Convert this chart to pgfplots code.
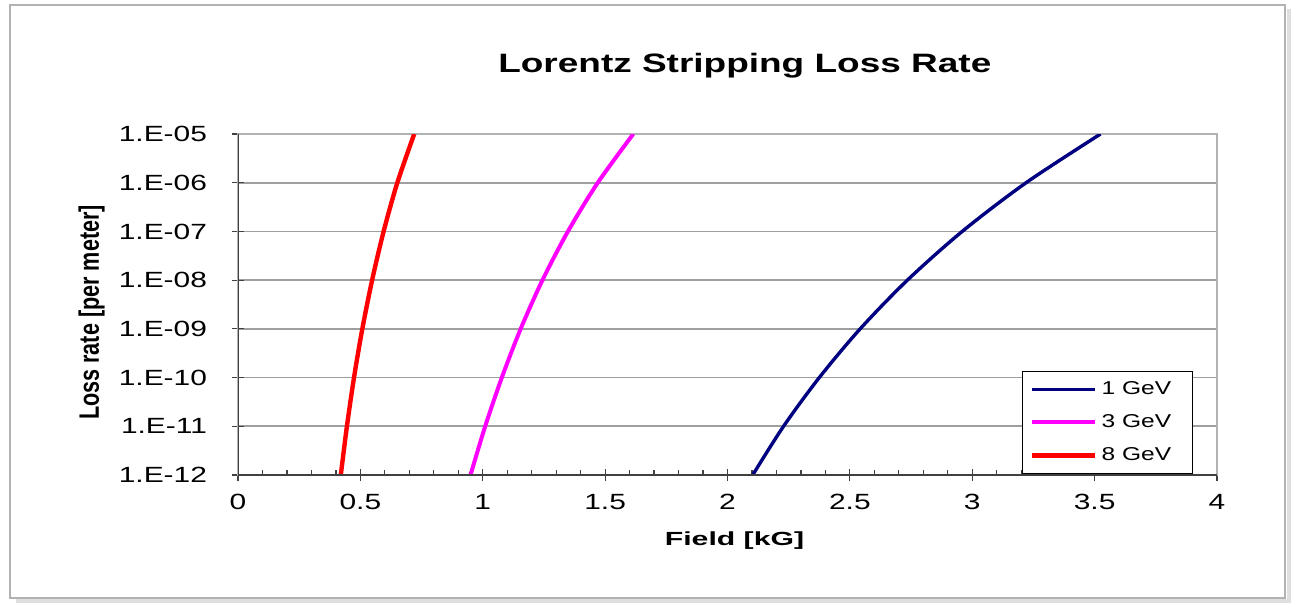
\documentclass[border=0pt]{standalone}
\usepackage{fontspec}
\setmainfont{Liberation Sans}
\usepackage{pgfplots}
\pgfplotsset{compat=1.18}
\newcommand{\hs}[1]{\scalebox{1.36}[1]{#1}}
\newcommand{\hl}[1]{\scalebox{1.32}[1]{#1}\rule{4.5bp}{0pt}}
\definecolor{navyc}{RGB}{0,0,128}
\definecolor{magc}{RGB}{255,0,255}
\definecolor{redc}{RGB}{255,0,0}
\begin{document}
\begin{tikzpicture}
\useasboundingbox (0,0) rectangle (646bp,301.5bp);
\fill[white] (0,0) rectangle (646bp,301.5bp);
\draw[gray!25, line width=2bp] (8bp,0.8bp) -- (644.5bp,0.8bp) -- (644.5bp,297bp);
\draw[gray!60, line width=0.8bp] (5bp,2.5bp) rectangle (642.5bp,299bp);
\node[font=\bfseries\fontsize{13.3bp}{16bp}\selectfont] at (372.4bp,268.5bp) {\scalebox{1.39}[1]{Lorentz Stripping Loss Rate}};
\node[font=\bfseries\fontsize{9.5bp}{12bp}\selectfont] at (367.25bp,31bp) {\scalebox{1.59}[1]{Field [kG]}};
\node[font=\bfseries\fontsize{10.8bp}{12bp}\selectfont, rotate=90] at (45.75bp,145.25bp) {\scalebox{1}[1.3]{Loss rate [per meter]}};
\begin{axis}[
  at={(119bp,64bp)}, anchor=south west, scale only axis,
  width=489.5bp, height=170.5bp,
  ymode=log, xmin=0, xmax=4, ymin=1e-12, ymax=1e-5,
  xtick={0,0.5,1,1.5,2,2.5,3,3.5,4},
  xticklabels={\hs{0},\hs{0.5},\hs{1},\hs{1.5},\hs{2},\hs{2.5},\hs{3},\hs{3.5},\hs{4}},
  minor x tick num=4,
  ytick={1e-12,1e-11,1e-10,1e-9,1e-8,1e-7,1e-6,1e-5},
  yticklabels={\hs{1.E-12},\hs{1.E-11},\hs{1.E-10},\hs{1.E-09},\hs{1.E-08},\hs{1.E-07},\hs{1.E-06},\hs{1.E-05}},
  yminorticks=false,
  xtick pos=left, ytick pos=left,
  tick align=center,
  major tick length=6bp, minor tick length=2.5bp,
  tick style={black!75, line width=0.6bp},
  minor tick style={yshift=1.25bp},
  ymajorgrids, major grid style={gray!75, line width=0.9bp},
  axis line style={gray!60, line width=0.8bp},
  tick label style={font=\fontsize{11bp}{13bp}\selectfont},
  y tick label style={xshift=-9bp},
  x tick label style={yshift=-3bp},
  legend style={at={(0.8005,0.305)}, anchor=north west, draw=black, line width=0.5bp,
    font=\fontsize{9.3bp}{11bp}\selectfont, row sep=4.5bp, inner xsep=4bp, inner ysep=3bp},
  legend cell align=left,
  legend image code/.code={\draw[#1] (0bp,0bp) -- (31.5bp,0bp);},
]
\addplot[navyc, line width=1.7bp, smooth] coordinates {
 (2.103,1e-12) (2.229,1e-11) (2.375,1e-10) (2.542,1e-9) (2.735,1e-8) (2.959,1e-7) (3.220,1e-6) (3.524,1e-5)};
\addlegendentry{\hl{1 GeV}}
\addplot[magc, line width=2bp, smooth] coordinates {
 (0.950,1e-12) (1.010,1e-11) (1.078,1e-10) (1.155,1e-9) (1.244,1e-8) (1.348,1e-7) (1.470,1e-6) (1.615,1e-5)};
\addlegendentry{\hl{3 GeV}}
\addplot[redc, line width=2.2bp, smooth] coordinates {
 (0.420,1e-12) (0.445,1e-11) (0.474,1e-10) (0.508,1e-9) (0.548,1e-8) (0.595,1e-7) (0.651,1e-6) (0.720,1e-5)};
\addlegendentry{\hl{8 GeV}}
\draw[black!75, line width=1bp] (rel axis cs:0,1) -- (rel axis cs:0,0) -- (rel axis cs:1,0);
\end{axis}
\end{tikzpicture}
\end{document}
